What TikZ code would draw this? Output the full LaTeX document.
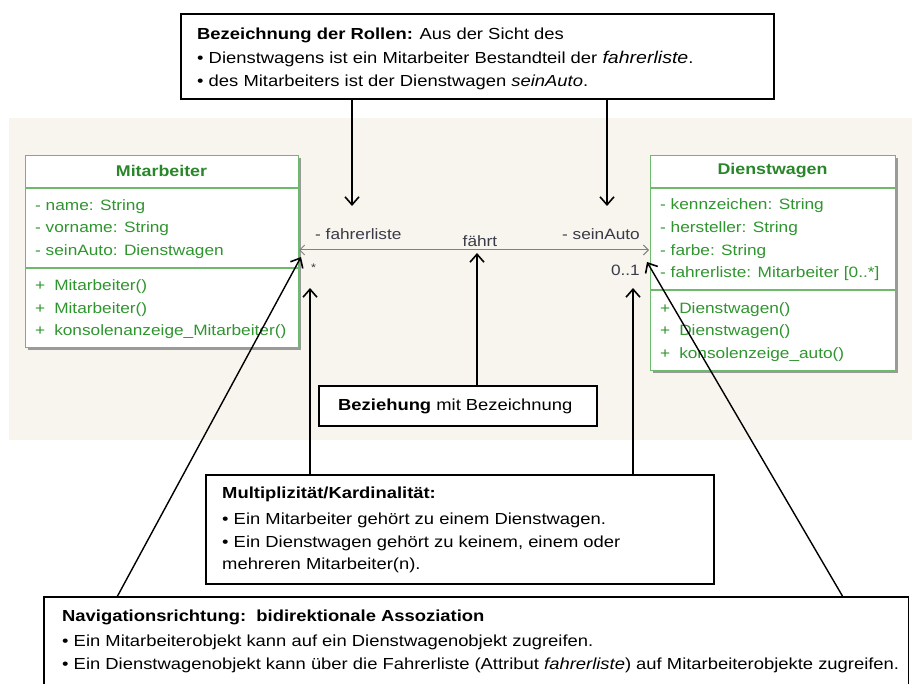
\documentclass[tikz,border=0pt]{standalone}
\usepackage{fontspec}
\setmainfont[FakeStretch=1.15]{Liberation Sans}
\usetikzlibrary{arrows.meta}
\definecolor{bgbeige}{HTML}{F8F5EE}
\definecolor{umlborder}{HTML}{6DBA6D}
\definecolor{umltext}{HTML}{2F952F}
\definecolor{umltitle}{HTML}{2A862A}
\definecolor{assoc}{HTML}{3A3A48}
\definecolor{shadowgray}{HTML}{9A9A9A}
\tikzset{
  umlbox/.style={draw=umlborder, line width=1.2pt, fill=white, rectangle, inner sep=0pt, anchor=north west},
  umlshadow/.style={fill=shadowgray, draw=none},
  umltxt/.style={anchor=west, inner sep=0pt, text=umltext, align=left, font=\fontsize{15}{22.6}\selectfont},
  umlhead/.style={inner sep=0pt, text=umltitle, font=\fontsize{15.5}{18}\selectfont\bfseries},
  notebox/.style={draw=black, line width=1.6pt, fill=white, rectangle, inner sep=0pt, anchor=north west},
  notetxt/.style={anchor=west, inner sep=0pt, align=left, text=black, font=\fontsize{16}{23.5}\selectfont},
  lbl/.style={inner sep=0pt, text=assoc, font=\fontsize{15}{18}\selectfont},
  callarrow/.style={draw=black, line width=1.6pt, -{Straight Barb[length=8pt,width=14pt,line width=1.6pt]}},
  assocline/.style={draw=gray, line width=1pt, {Straight Barb[length=5pt,width=10pt]}-{Straight Barb[length=5pt,width=10pt]}}
}
\begin{document}
\begin{tikzpicture}[x=1pt,y=-1pt]
\useasboundingbox (0,0) rectangle (912,684);
% background
\fill[bgbeige] (9,118) rectangle (912,440);

% shadows
\fill[umlshadow] (28,158) rectangle (301,350);
\fill[umlshadow] (653,158) rectangle (898,373);

% Mitarbeiter class
\node[umlbox, minimum width=273pt, minimum height=192pt] (mit) at (25,155) {};
\draw[umlborder, line width=1.2pt] (25,188) -- (298,188);
\draw[umlborder, line width=1.2pt] (25,268) -- (298,268);
\node[umlhead] (mittitle) at (161.5,171) {Mitarbeiter};
\node[umltxt] (mitattr) at (35,229) {- name: String\\- vorname: String\\- seinAuto: Dienstwagen};
\node[umltxt] (mitmeth) at (35,309.5) {+\hspace{9pt}Mitarbeiter()\\+\hspace{9pt}Mitarbeiter()\\+\hspace{9pt}konsolenanzeige\_Mitarbeiter()};

% Dienstwagen class
\node[umlbox, minimum width=245pt, minimum height=215pt] (dw) at (650,155) {};
\draw[umlborder, line width=1.2pt] (650,188) -- (895,188);
\draw[umlborder, line width=1.2pt] (650,290) -- (895,290);
\node[umlhead] (dwtitle) at (772.5,171) {Dienstwagen};
\node[umltxt] (dwattr) at (660,240) {- kennzeichen: String\\- hersteller: String\\- farbe: String\\- fahrerliste: Mitarbeiter [0..*]};
\node[umltxt] (dwmeth) at (660,332) {+\hspace{9pt}Dienstwagen()\\+\hspace{9pt}Dienstwagen()\\+\hspace{9pt}konsolenzeige\_auto()};

% association
\coordinate (aL) at (299,250);
\coordinate (aR) at (649,250);
\draw[assocline] (aL) -- (aR);
\node[lbl, anchor=west] (rolleL) at (315,234) {- fahrerliste};
\node[lbl] (assocname) at (480,241) {fährt};
\node[lbl, anchor=east] (rolleR) at (640,234) {- seinAuto};
\node[lbl, anchor=west, font=\fontsize{11}{12}\selectfont] (multL) at (311,268) {*};
\node[lbl, anchor=east] (multR) at (640,270) {0..1};

% top note
\node[notebox, minimum width=593pt, minimum height=85pt] (rollen) at (180,13) {};
\node[notetxt] (rollentxt) at (197,59) {\textbf{Bezeichnung der Rollen:} Aus der Sicht des\\
  • Dienstwagens ist ein Mitarbeiter Bestandteil der {\fontsize{17}{20}\selectfont\itshape fahrerliste}.\\
  • des Mitarbeiters ist der Dienstwagen \textit{seinAuto}.};
\coordinate (tL) at (352,206);
\coordinate (tR) at (607,206);
\draw[callarrow] (rollen.south -| tL) -- (tL);
\draw[callarrow] (rollen.south -| tR) -- (tR);

% Beziehung note
\node[notebox, minimum width=278pt, minimum height=40pt] (bez) at (318,385) {};
\node[notetxt] (beztxt) at (338,406) {\textbf{Beziehung} mit Bezeichnung};
\coordinate (bZ) at (477,253);
\draw[callarrow] (bez.north -| bZ) -- (bZ);

% Multiplizitaet note
\node[notebox, minimum width=508pt, minimum height=109pt] (mult) at (205,474) {};
\node[notetxt, anchor=north west] (multtxt) at (222,487) {\textbf{Multiplizität/Kardinalität:}\\[2pt]
  • Ein Mitarbeiter gehört zu einem Dienstwagen.\\
  • Ein Dienstwagen gehört zu keinem, einem oder\\[-2pt]
  mehreren Mitarbeiter(n).};
\coordinate (mL) at (310,288);
\coordinate (mR) at (633,288);
\draw[callarrow] (mult.north -| mL) -- (mL);
\draw[callarrow] (mult.north -| mR) -- (mR);

% Navigation note
\node[draw=none, fill=white, rectangle, inner sep=0pt, anchor=north west, minimum width=864pt, minimum height=95pt] (nav) at (44,597) {};
\draw[black, line width=1.6pt] (nav.south west) -- (nav.north west) -- (nav.north east) -- (nav.south east);
\node[notetxt, anchor=north west] (navtxt) at (62,610) {\textbf{Navigationsrichtung:\ \ bidirektionale Assoziation}\\[1pt]
  • Ein Mitarbeiterobjekt kann auf ein Dienstwagenobjekt zugreifen.\\
  • Ein Dienstwagenobjekt kann über die Fahrerliste (Attribut \textit{fahrerliste}) auf Mitarbeiterobjekte zugreifen.};
\coordinate (nL) at (301,257);
\coordinate (nR) at (647,262);
\coordinate (nLs) at (117,597);
\coordinate (nRs) at (843,597);
\draw[callarrow, line width=1.4pt] (nLs) -- (nL);
\draw[callarrow, line width=1.4pt] (nRs) -- (nR);
\end{tikzpicture}
\end{document}
